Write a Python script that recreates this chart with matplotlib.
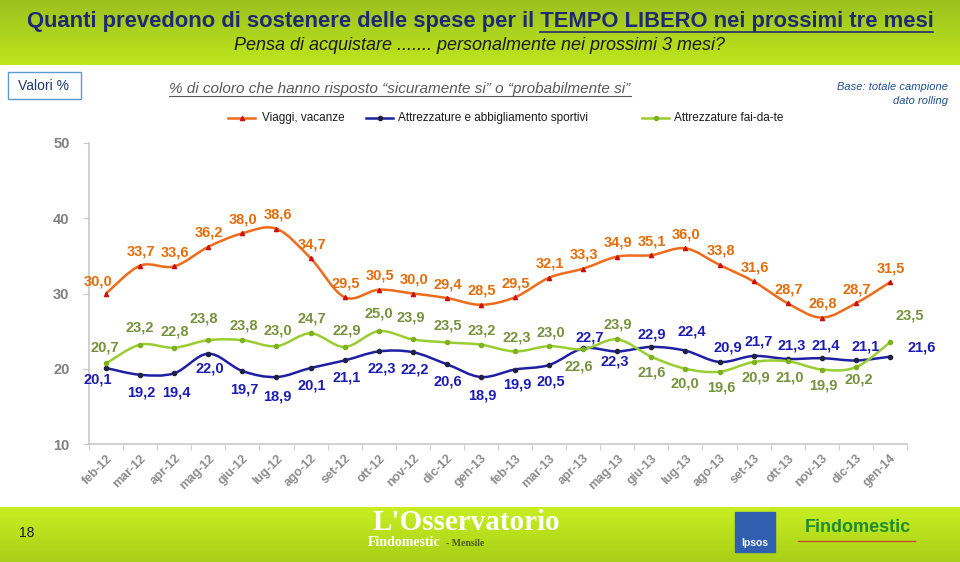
import numpy as np
import matplotlib.pyplot as plt
from matplotlib.path import Path
from matplotlib.patches import PathPatch, Rectangle
from matplotlib.colors import LinearSegmentedColormap

plt.rcParams['font.family'] = ['Liberation Sans', 'DejaVu Sans']

# dati
mesi = ['feb-12', 'mar-12', 'apr-12', 'mag-12', 'giu-12', 'lug-12', 'ago-12', 'set-12',
        'ott-12', 'nov-12', 'dic-12', 'gen-13', 'feb-13', 'mar-13', 'apr-13', 'mag-13',
        'giu-13', 'lug-13', 'ago-13', 'set-13', 'ott-13', 'nov-13', 'dic-13', 'gen-14']
viaggi = [30.0, 33.7, 33.6, 36.2, 38.0, 38.6, 34.7, 29.5, 30.5, 30.0, 29.4, 28.5,
          29.5, 32.1, 33.3, 34.9, 35.1, 36.0, 33.8, 31.6, 28.7, 26.8, 28.7, 31.5]
sportivi = [20.1, 19.2, 19.4, 22.0, 19.7, 18.9, 20.1, 21.1, 22.3, 22.2, 20.6, 18.9,
            19.9, 20.5, 22.7, 22.3, 22.9, 22.4, 20.9, 21.7, 21.3, 21.4, 21.1, 21.6]
faidate = [20.7, 23.2, 22.8, 23.8, 23.8, 23.0, 24.7, 22.9, 25.0, 23.9, 23.5, 23.2,
           22.3, 23.0, 22.6, 23.9, 21.6, 20.0, 19.6, 20.9, 21.0, 19.9, 20.2, 23.5]
serie_nomi = ['Viaggi, vacanze', 'Attrezzature e abbigliamento sportivi', 'Attrezzature fai-da-te']

# posizione etichette (pixel rispetto al punto)
off_viaggi = [(-8, 12)] + [(1, 14)] * 23
off_sportivi = [(-8, -12), (1, -18), (2, -19), (2, -15), (2, -18), (1, -19), (1, -18), (2, -17),
                (3, -17), (2, -17), (1, -17), (1, -18), (2, -15), (2, -17), (7, 11), (-3, -10),
                (0, 12), (6, 19), (8, 14), (5, 14), (4, 13), (4, 13), (10, 14), (32, 9)]
off_faidate = [(-1, 16), (0, 17), (1, 16), (-5, 22), (1, 15), (1, 16), (1, 15), (2, 16),
               (0, 18), (-2, 22), (1, 17), (1, 14), (2, 14), (2, 14), (-4, -17), (0, 15),
               (0, -16), (-1, -15), (2, -16), (2, -16), (2, -16), (2, -16), (3, -12), (20, 27)]

W, H = 960, 562
fig = plt.figure(figsize=(9.6, 5.62), dpi=100)

# bande verdi
bg = fig.add_axes([0, 0, 1, 1])
bg.set_xlim(0, W)
bg.set_ylim(H, 0)
bg.axis('off')
top_cm = LinearSegmentedColormap.from_list('t', ['#9cc11f', '#bde61c'])
bot_cm = LinearSegmentedColormap.from_list('b', ['#c9ef22', '#a8cf17'])
grad = np.linspace(0, 1, 100).reshape(-1, 1)
bg.imshow(grad, cmap=top_cm, extent=[0, W, 65, 0], aspect='auto')
bg.imshow(grad, cmap=bot_cm, extent=[0, W, H, 507], aspect='auto')
bg.add_patch(Rectangle((8, 72), 73, 27, fill=False, ec='#5b9bd5', lw=1))
bg.text(44, 86, 'Valori %', ha='center', va='center', fontsize=10, color='#1f3864')
bg.text(27, 533, '18', ha='center', va='center', fontsize=10, color='#1a1a1a')

# titolo
t = bg.text(480, 22, 'Quanti prevedono di sostenere delle spese per il TEMPO LIBERO nei prossimi tre mesi',
            ha='center', va='center', fontsize=15.8, fontweight='bold', color='#1f2a72')
bg.text(480, 46, 'Pensa di acquistare ....... personalmente nei prossimi 3 mesi?',
        ha='center', va='center', fontsize=13, style='italic', color='#1a1a1a')
s = bg.text(400, 89, '% di coloro che hanno risposto \u201csicuramente si\u201d o \u201cprobabilmente si\u201d',
            ha='center', va='center', fontsize=11, style='italic', color='#595959')
bg.text(948, 87, 'Base: totale campione', ha='right', va='center', fontsize=8, style='italic', color='#1f4e8c')
bg.text(948, 101, 'dato rolling', ha='right', va='center', fontsize=8, style='italic', color='#1f4e8c')

# loghi
bg.text(466, 522, "L'Osservatorio", ha='center', va='center', fontsize=21, fontweight='bold',
        family='Liberation Serif', color='white')
bg.text(368, 543, 'Findomestic', ha='left', va='center', fontsize=10, fontweight='bold',
        family='Liberation Serif', color='white')
bg.text(446, 544, '- Mensile', ha='left', va='center', fontsize=7, fontweight='bold',
        family='Liberation Serif', color='#4a5a1a')
bg.add_patch(Rectangle((735, 512), 40, 40, color='#2f5fae'))
bg.text(755, 543, 'Ipsos', ha='center', va='center', fontsize=7.5, fontweight='bold', color='white')
bg.text(858, 528, 'Findomestic', ha='center', va='center', fontsize=13, fontweight='bold', color='#1e8c2e')
bg.plot([798, 915], [541, 541], color='#c05020', lw=1)

# grafico
ax = fig.add_axes([89 / W, 1 - 444 / H, 818 / W, 301 / H])
ax.set_xlim(-0.5, len(mesi) - 0.5)
ax.set_ylim(10, 50)
for sp in ['top', 'right']:
    ax.spines[sp].set_visible(False)
for sp in ['left', 'bottom']:
    ax.spines[sp].set_color('#c8c8c8')
    ax.spines[sp].set_linewidth(1.2)
ax.set_yticks([10, 20, 30, 40, 50])
ax.tick_params(axis='y', length=4, color='#c8c8c8', labelsize=10.5, labelcolor='#808080', pad=10)
for lab in ax.get_yticklabels():
    lab.set_fontweight('bold')
x = np.arange(len(mesi))
ax.set_xticks(x)
ax.set_xticklabels(mesi, rotation=45, ha='right', rotation_mode='anchor',
                   fontsize=9, fontweight='bold', color='#8c8c8c')
ax.tick_params(axis='x', which='major', length=0, pad=6)
ax.set_xticks(np.arange(-0.5, len(mesi), 1), minor=True)
ax.tick_params(axis='x', which='minor', length=4, color='#c8c8c8')


def curva(xs, ys, color):
    p = np.column_stack([xs, ys])
    verts = [p[0]]
    codes = [Path.MOVETO]
    n = len(p)
    for i in range(n - 1):
        p0 = p[i - 1] if i > 0 else p[i]
        p3 = p[i + 2] if i + 2 < n else p[i + 1]
        c1 = p[i] + (p[i + 1] - p0) / 6
        c2 = p[i + 1] - (p3 - p[i]) / 6
        verts += [c1, c2, p[i + 1]]
        codes += [Path.CURVE4] * 3
    ax.add_patch(PathPatch(Path(verts, codes), fill=False, ec=color, lw=1.8, zorder=2))


serie = [
    (viaggi, '#ee6b1c', '#e46c0a', '^', '#cc1010', off_viaggi),
    (sportivi, '#1f1fa3', '#1c1cb4', 'o', '#202040', off_sportivi),
    (faidate, '#9acd32', '#76923c', 'o', '#7fb020', off_faidate),
]
for (vals, lc, tc, mk, mc, offs), nome in zip(serie, serie_nomi):
    curva(x, vals, lc)
    ax.plot(x, vals, ls='none', marker=mk, ms=3, color=mc, zorder=3)
    for xi, v, (dx, dy) in zip(x, vals, offs):
        ax.annotate(f'{v:.1f}'.replace('.', ','), (xi, v), xytext=(dx, dy), textcoords='offset pixels',
                    ha='center', va='center', fontsize=10.5, fontweight='bold', color=tc, zorder=4)

# legenda
leg_x = [(228, 262), (366, 398), (642, 674)]
for (lx, tx), (vals, lc, tc, mk, mc, offs), nome in zip(leg_x, serie, serie_nomi):
    bg.plot([lx, lx + 27], [118, 118], color=lc, lw=1.8)
    bg.plot([lx + 13.5], [118], marker=mk, ms=3, color=mc)
    bg.text(tx, 118, nome, ha='left', va='center', fontsize=8.5, color='#1a1a1a')

# sottolineature
fig.canvas.draw()
r = fig.canvas.get_renderer()
inv = bg.transData.inverted()
bb = t.get_window_extent(r)
tmp = bg.text(0, 0, 'TEMPO LIBERO nei prossimi tre mesi', fontsize=15.8, fontweight='bold')
wsuf = tmp.get_window_extent(r).width
tmp.remove()
(x0, y0), (x1, y1) = inv.transform([(bb.x1 - wsuf, bb.y0), (bb.x1, bb.y0)])
bg.plot([x0, x1], [y0 - 1, y1 - 1], color='#1f2a72', lw=1.2)
bb = s.get_window_extent(r)
(x0, y0), (x1, y1) = inv.transform([(bb.x0, bb.y0), (bb.x1, bb.y0)])
bg.plot([x0, x1], [y0, y1], color='#595959', lw=0.8)

fig.savefig('out.png', dpi=100)
